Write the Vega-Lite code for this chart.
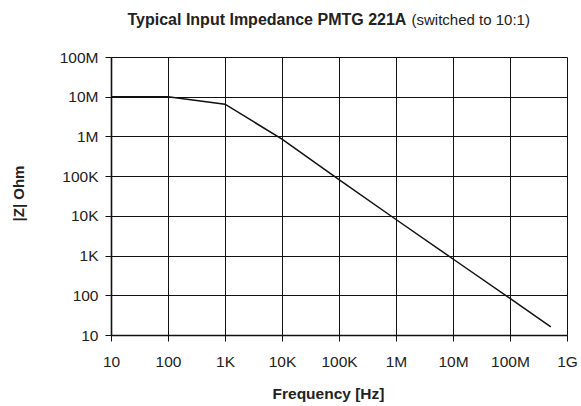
{
  "$schema": "https://vega.github.io/schema/vega-lite/v6.json",
  "width": 456,
  "height": 278,
  "autosize": {"type": "none"},
  "padding": {"left": 111, "top": 57, "right": 14, "bottom": 71},
  "background": "white",
  "config": {
    "view": {"stroke": null},
    "font": "Liberation Sans",
    "axis": {"labelFont": "Liberation Sans", "titleFont": "Liberation Sans"}
  },
  "data": {
    "values": [
      {"f": 10, "z": 10000000},
      {"f": 100, "z": 10000000},
      {"f": 1000, "z": 6500000},
      {"f": 10000, "z": 850000},
      {"f": 100000, "z": 82000},
      {"f": 1000000, "z": 8100},
      {"f": 10000000, "z": 820},
      {"f": 100000000, "z": 84},
      {"f": 520000000, "z": 16}
    ]
  },
  "layer": [
    {
      "mark": {"type": "line", "color": "#111", "strokeWidth": 1.5, "clip": true},
      "encoding": {
        "x": {
          "field": "f", "type": "quantitative",
          "scale": {"type": "log", "domain": [10, 1000000000], "nice": false},
          "axis": {
            "orient": "bottom",
            "values": [10, 100, 1000, 10000, 100000, 1000000, 10000000, 100000000, 1000000000],
            "labelExpr": "datum.value >= 1e9 ? '1G' : datum.value >= 1e6 ? (datum.value/1e6) + 'M' : datum.value >= 1e3 ? (datum.value/1e3) + 'K' : '' + datum.value",
            "grid": true, "gridColor": "#111", "gridOpacity": 1, "gridWidth": 1,
            "domain": true, "domainColor": "#111", "domainWidth": 1.6,
            "ticks": true, "tickColor": "#111", "tickSize": 6, "tickWidth": 1,
            "labelFontSize": 15.5, "labelColor": "#222", "labelPadding": 13, "labelFlush": false,
            "title": "Frequency [Hz]", "titleFontSize": 15.5, "titleFontWeight": "bold", "titleColor": "#222",
            "titleX": 217, "titleY": 58, "titleAlign": "center", "titleBaseline": "middle"
          }
        },
        "y": {
          "field": "z", "type": "quantitative",
          "scale": {"type": "log", "domain": [10, 100000000], "nice": false},
          "axis": {
            "orient": "left",
            "values": [10, 100, 1000, 10000, 100000, 1000000, 10000000, 100000000],
            "labelExpr": "datum.value >= 1e6 ? (datum.value/1e6) + 'M' : datum.value >= 1e3 ? (datum.value/1e3) + 'K' : '' + datum.value",
            "grid": true, "gridColor": "#111", "gridOpacity": 1, "gridWidth": 1,
            "domain": true, "domainColor": "#111", "domainWidth": 1.6,
            "ticks": true, "tickColor": "#111", "tickSize": 6, "tickWidth": 1,
            "labelFontSize": 15.5, "labelColor": "#222", "labelPadding": 7, "labelFlush": false,
            "title": "|Z| Ohm", "titleFontSize": 15, "titleFontWeight": "bold", "titleColor": "#222",
            "titleX": -93, "titleY": 136, "titleAlign": "center", "titleBaseline": "middle"
          }
        }
      }
    },
    {
      "data": {"values": [{"f": 10, "z": 10}]},
      "mark": {"type": "point", "opacity": 0},
      "encoding": {
        "x": {
          "field": "f", "type": "quantitative",
          "scale": {"type": "log", "domain": [10, 1000000000], "nice": false},
          "axis": {
            "orient": "top", "labels": false, "ticks": false, "domain": false, "grid": false,
            "title": "Typical Input Impedance PMTG 221A", "titleFontSize": 16, "titleFontWeight": "bold", "titleColor": "#222",
            "titleX": 16, "titleY": -33, "titleAlign": "left", "titleBaseline": "alphabetic", "titleAnchor": "start"
          }
        },
        "y": {
          "field": "z", "type": "quantitative",
          "scale": {"type": "log", "domain": [10, 100000000], "nice": false},
          "axis": {
            "orient": "right", "labels": false, "ticks": false, "domain": false, "grid": false,
            "title": "(switched to 10:1)", "titleFontSize": 15, "titleFontWeight": "normal", "titleColor": "#222",
            "titleAngle": 0, "titleX": -156, "titleY": -33, "titleAlign": "left", "titleBaseline": "alphabetic"
          }
        }
      }
    }
  ],
  "resolve": {"axis": {"x": "independent", "y": "independent"}}
}
